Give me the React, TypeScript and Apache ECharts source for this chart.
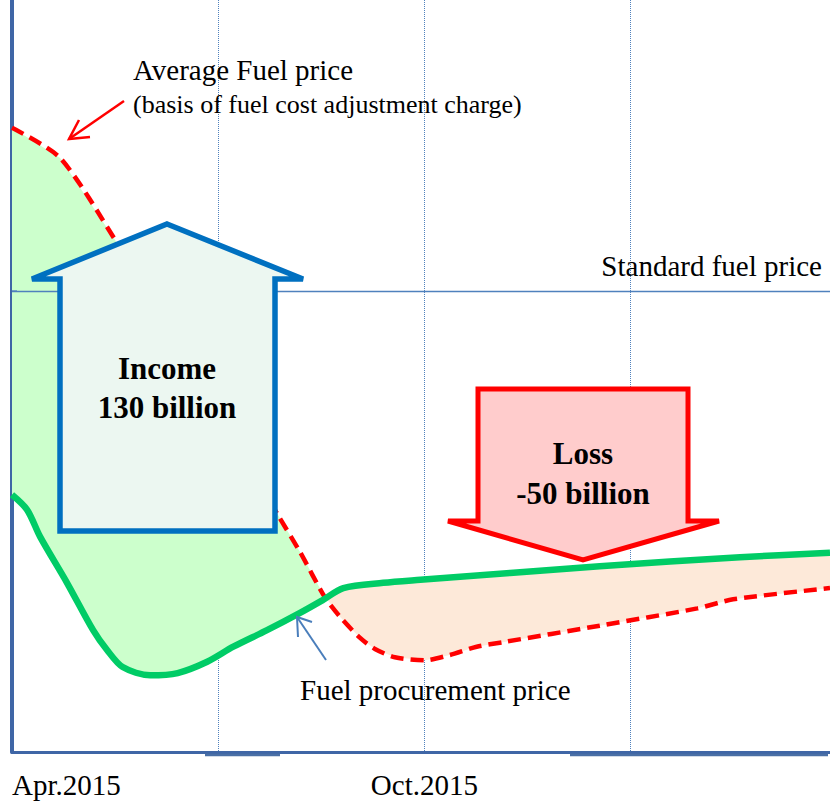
import React, { useEffect, useRef } from "react";
import * as echarts from "echarts";

// Average fuel price (basis of fuel cost adjustment charge): months since Apr.2015, price index
const avgPriceX = [0, 0.7, 1.5, 2.73, 3.87, 4.19, 4.55, 4.77, 5.06, 5.28, 5.57, 6.01, 6.37, 6.76, 7.14, 8.55, 9.97, 10.49, 11.9];
const avgPriceY = [83.0, 79.0, 68.1, 49.5, 31.5, 26.6, 20.6, 18.0, 15.2, 13.7, 12.6, 12.2, 12.9, 14.0, 14.6, 16.8, 19.1, 20.3, 21.8];

// Fuel procurement price
const procPriceX = [0, 0.22, 0.41, 0.8, 1.18, 1.38, 1.61, 2.01, 2.41, 2.84, 3.22, 3.71, 4.19, 4.52, 4.82, 5.4, 5.94, 8.55, 10.59, 11.9];
const procPriceY = [34.2, 32.2, 28.6, 22.5, 16.2, 13.6, 11.3, 10.2, 10.5, 12.0, 14.0, 16.2, 18.5, 20.2, 21.8, 22.5, 22.9, 24.7, 25.9, 26.5];

const standardPrice = 61.3;

const xTickValues = [0, 6];
const xTickLabels = ["Apr.2015", "Oct.2015"];

const SERIF = "'Liberation Serif', 'Times New Roman', serif";

function interp(xs: number[], ys: number[], x: number) {
  if (x <= xs[0]) return ys[0];
  for (let i = 1; i < xs.length; i++) {
    if (x <= xs[i]) {
      const t = (x - xs[i - 1]) / (xs[i] - xs[i - 1]);
      return ys[i - 1] + t * (ys[i] - ys[i - 1]);
    }
  }
  return ys[ys.length - 1];
}

function findCross() {
  let prev = interp(avgPriceX, avgPriceY, 0) - interp(procPriceX, procPriceY, 0);
  for (let x = 0.01; x <= 11.9; x += 0.01) {
    const d = interp(avgPriceX, avgPriceY, x) - interp(procPriceX, procPriceY, x);
    if (prev > 0 && d <= 0) return x;
    prev = d;
  }
  return 4.5;
}

export default function App() {
  const ref = useRef<HTMLDivElement>(null);
  useEffect(() => {
    if (!ref.current) return;
    const chart = echarts.init(ref.current, undefined, { renderer: "svg" });
    const avgData = avgPriceX.map((x, i) => [x, avgPriceY[i]]);
    const procData = procPriceX.map((x, i) => [x, procPriceY[i]]);
    const crossX = findCross();
    const crossY = interp(procPriceX, procPriceY, crossX);

    const option: any = {
      animation: false,
      backgroundColor: "#ffffff",
      grid: { left: 12, right: 0, top: 0, bottom: 49 },
      xAxis: {
        type: "value",
        min: 0,
        max: 11.9,
        interval: 3,
        axisLine: { show: true, lineStyle: { color: "#3f66a6", width: 3 } },
        axisTick: { show: false },
        splitLine: { show: true, lineStyle: { color: "#4f81bd", width: 1, type: "dotted" } },
        axisLabel: {
          show: true,
          showMaxLabel: false,
          alignMinLabel: "left",
          margin: 18,
          color: "#000",
          fontFamily: SERIF,
          fontSize: 29,
          formatter: (v: number) => {
            const idx = xTickValues.indexOf(v);
            return idx >= 0 ? xTickLabels[idx] : "";
          },
        },
      },
      yAxis: {
        type: "value",
        min: 0,
        max: 100,
        axisLine: { show: true, lineStyle: { color: "#3f66a6", width: 4 } },
        axisTick: { show: false },
        axisLabel: { show: false },
        splitLine: { show: false },
      },
      series: [
        {
          type: "custom",
          z: 1,
          silent: true,
          data: [[0, 0]],
          renderItem: (params: any, api: any) => {
            const redL = avgData.filter((p) => p[0] < crossX);
            const grnL = procData.filter((p) => p[0] < crossX);
            const redR = avgData.filter((p) => p[0] > crossX);
            const grnR = procData.filter((p) => p[0] > crossX);
            const c = [crossX, crossY];
            const left = [...redL, c, ...grnL.slice().reverse()].map((p) => api.coord(p));
            const right = [c, ...redR, ...grnR.slice().reverse()].map((p) => api.coord(p));
            return {
              type: "group",
              children: [
                { type: "polygon", shape: { points: left }, style: { fill: "#ccffcc", stroke: "none" } },
                { type: "polygon", shape: { points: right }, style: { fill: "#fde9d9", stroke: "none" } },
              ],
            };
          },
        },
        {
          type: "line",
          name: "Average Fuel price",
          z: 3,
          data: avgData,
          smooth: 0.25,
          showSymbol: false,
          lineStyle: { color: "#ff0000", width: 4.5, type: [13, 7] },
          markLine: {
            silent: true,
            symbol: ["none", "none"],
            label: { show: false },
            lineStyle: { color: "#4f81bd", width: 1.3, type: "solid" },
            data: [{ yAxis: standardPrice }],
          },
        },
        {
          type: "line",
          name: "Fuel procurement price",
          z: 4,
          data: procData,
          smooth: 0.3,
          showSymbol: false,
          lineStyle: { color: "#00cc66", width: 6.5 },
        },
      ],
      graphic: [
        // Income arrow
        {
          type: "polygon",
          z: 100,
          shape: { points: [[167, 224], [303, 279], [275, 279], [275, 531], [60, 531], [60, 279], [32, 279]] },
          style: { fill: "#ecf7f1", stroke: "#0070c0", lineWidth: 5.5, lineJoin: "miter" },
        },
        {
          type: "text", z: 101, x: 167, y: 368,
          style: { text: "Income", fontFamily: SERIF, fontWeight: "bold", fontSize: 31, fill: "#000", align: "center", verticalAlign: "middle" },
        },
        {
          type: "text", z: 101, x: 167, y: 407,
          style: { text: "130 billion", fontFamily: SERIF, fontWeight: "bold", fontSize: 31, fill: "#000", align: "center", verticalAlign: "middle" },
        },
        // Loss arrow
        {
          type: "polygon",
          z: 100,
          shape: { points: [[478, 389], [688, 389], [688, 521], [719, 521], [583, 560], [448, 521], [478, 521]] },
          style: { fill: "#ffcccc", stroke: "#ff0000", lineWidth: 5, lineJoin: "miter" },
        },
        {
          type: "text", z: 101, x: 583, y: 453,
          style: { text: "Loss", fontFamily: SERIF, fontWeight: "bold", fontSize: 31, fill: "#000", align: "center", verticalAlign: "middle" },
        },
        {
          type: "text", z: 101, x: 583, y: 493,
          style: { text: "-50 billion", fontFamily: SERIF, fontWeight: "bold", fontSize: 31, fill: "#000", align: "center", verticalAlign: "middle" },
        },
        // Annotations
        {
          type: "text", z: 101, x: 133, y: 70,
          style: { text: "Average Fuel price", fontFamily: SERIF, fontSize: 29, fill: "#000", align: "left", verticalAlign: "middle" },
        },
        {
          type: "text", z: 101, x: 133, y: 104,
          style: { text: "(basis of fuel cost adjustment charge)", fontFamily: SERIF, fontSize: 26, fill: "#000", align: "left", verticalAlign: "middle" },
        },
        {
          type: "polyline", z: 101,
          shape: { points: [[124, 101], [69, 139]] },
          style: { stroke: "#ff0000", lineWidth: 2.5, fill: "none" },
        },
        {
          type: "polyline", z: 101,
          shape: { points: [[79, 120], [69, 139], [90, 137]] },
          style: { stroke: "#ff0000", lineWidth: 2.5, fill: "none" },
        },
        {
          type: "text", z: 101, x: 822, y: 266,
          style: { text: "Standard fuel price", fontFamily: SERIF, fontSize: 29, fill: "#000", align: "right", verticalAlign: "middle" },
        },
        {
          type: "text", z: 101, x: 300, y: 690,
          style: { text: "Fuel procurement price", fontFamily: SERIF, fontSize: 29, fill: "#000", align: "left", verticalAlign: "middle" },
        },
        {
          type: "polyline", z: 101,
          shape: { points: [[326, 660], [297, 617]] },
          style: { stroke: "#4a7ebb", lineWidth: 2, fill: "none" },
        },
        {
          type: "polyline", z: 101,
          shape: { points: [[298, 637], [297, 617], [312, 622]] },
          style: { stroke: "#4a7ebb", lineWidth: 2, fill: "none" },
        },
        // small tick at standard price on the left axis
        {
          type: "line", z: 101,
          shape: { x1: 12, y1: 291, x2: 17, y2: 291 },
          style: { stroke: "#4f81bd", lineWidth: 1.3 },
        },
        // offset segments under the bottom axis
        {
          type: "line", z: 101,
          shape: { x1: 205, y1: 755, x2: 280, y2: 755 },
          style: { stroke: "#4a6fa5", lineWidth: 2.5 },
        },
        {
          type: "line", z: 101,
          shape: { x1: 570, y1: 755, x2: 828, y2: 755 },
          style: { stroke: "#4a6fa5", lineWidth: 2.5 },
        },
      ],
    };
    chart.setOption(option);
    return () => chart.dispose();
  }, []);
  return <div ref={ref} style={{ width: 830, height: 801, position: "absolute", left: 0, top: 0 }} />;
}
